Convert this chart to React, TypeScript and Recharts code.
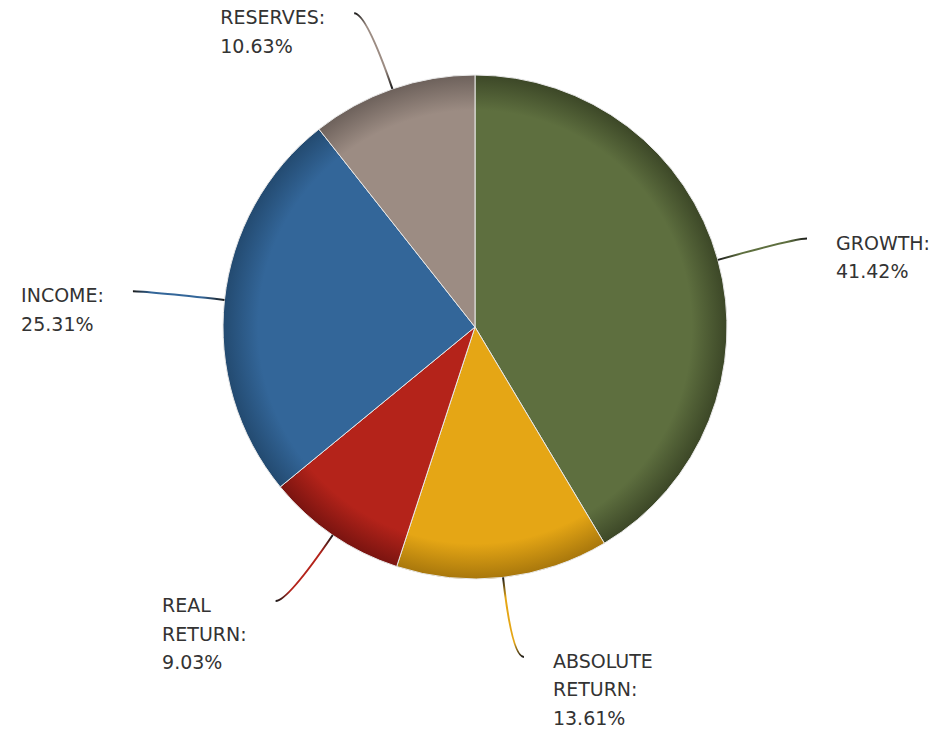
import { PieChart, Pie, Cell } from 'recharts'

const categories = ['GROWTH', 'ABSOLUTE RETURN', 'REAL RETURN', 'INCOME', 'RESERVES']
const shares = [41.42, 13.61, 9.03, 25.31, 10.63]
const labelLines = [['GROWTH:'], ['ABSOLUTE', 'RETURN:'], ['REAL', 'RETURN:'], ['INCOME:'], ['RESERVES:']]
const baseColors = ['#5e6f3f', '#e5a615', '#b4231a', '#336699', '#9c8c83']
const edgeColors = ['#3c4727', '#a8770c', '#7a1410', '#234a70', '#6d615b']

const W = 945
const H = 734
const CX = 475
const CY = 327
const R = 252
const FONT = '"DejaVu Sans", sans-serif'
const FONT_SIZE = 19
const LINE_H = 28.5
const RAD = Math.PI / 180

let ctx: CanvasRenderingContext2D | null = null
function textWidth(s: string): number {
  if (!ctx) ctx = document.createElement('canvas').getContext('2d')
  if (!ctx) return s.length * 11.5
  ctx.font = `${FONT_SIZE}px "DejaVu Sans"`
  return ctx.measureText(s).width
}

const data = categories.map((name, i) => ({ name, value: shares[i], idx: i }))

function renderLabel(props: any) {
  const { cx, cy, midAngle, outerRadius, payload } = props
  const i = payload.idx as number
  const cos = Math.cos(-midAngle * RAD)
  const sin = Math.sin(-midAngle * RAD)
  const x0 = cx + outerRadius * cos
  const y0 = cy + outerRadius * sin
  const x1 = cx + 332 * cos
  const y1 = cy + 332 * sin
  const right = cos >= 0
  const x2 = x1 + (right ? 12 : -12)
  const y2 = y1
  const lines = [...labelLines[i], `${shares[i].toFixed(2)}%`]
  const blockW = Math.max(...lines.map(textWidth))
  const tx = right ? x2 + 29 : x2 - 29 - blockW
  const gid = `lead-${i}`
  return (
    <g key={gid}>
      <defs>
        <linearGradient id={gid} gradientUnits="userSpaceOnUse" x1={x0} y1={y0} x2={x2} y2={y2}>
          <stop offset="0" stopColor="#1a1a1a" />
          <stop offset="0.25" stopColor={baseColors[i]} />
          <stop offset="0.8" stopColor={baseColors[i]} />
          <stop offset="1" stopColor="#1a1a1a" />
        </linearGradient>
      </defs>
      <path d={`M${x0},${y0} Q${x1},${y1} ${x2},${y2}`} fill="none" stroke={`url(#${gid})`} strokeWidth={2} />
      <text x={tx} y={y2 + 11} fill="#333" fontFamily={FONT} fontSize={FONT_SIZE}>
        {lines.map((l, k) => (
          <tspan key={k} x={tx} dy={k === 0 ? 0 : LINE_H}>{l}</tspan>
        ))}
      </text>
    </g>
  )
}

export default function App() {
  return (
    <>
      <style>{'body{margin:0;overflow:hidden}'}</style>
      <PieChart width={W} height={H} margin={{ top: 0, right: 0, bottom: 0, left: 0 }}>
        <defs>
          {baseColors.map((c, i) => (
            <radialGradient key={i} id={`shade-${i}`} gradientUnits="userSpaceOnUse" cx={CX} cy={CY} r={R}>
              <stop offset="0" stopColor={c} />
              <stop offset="0.86" stopColor={c} />
              <stop offset="1" stopColor={edgeColors[i]} />
            </radialGradient>
          ))}
        </defs>
        <Pie
          data={data}
          dataKey="value"
          nameKey="name"
          cx={CX}
          cy={CY}
          outerRadius={R}
          startAngle={90}
          endAngle={-270}
          stroke="#e8e8e8"
          strokeWidth={1}
          label={renderLabel}
          labelLine={false}
          isAnimationActive={false}
        >
          {data.map((d) => (
            <Cell key={d.name} fill={`url(#shade-${d.idx})`} />
          ))}
        </Pie>
      </PieChart>
    </>
  )
}
